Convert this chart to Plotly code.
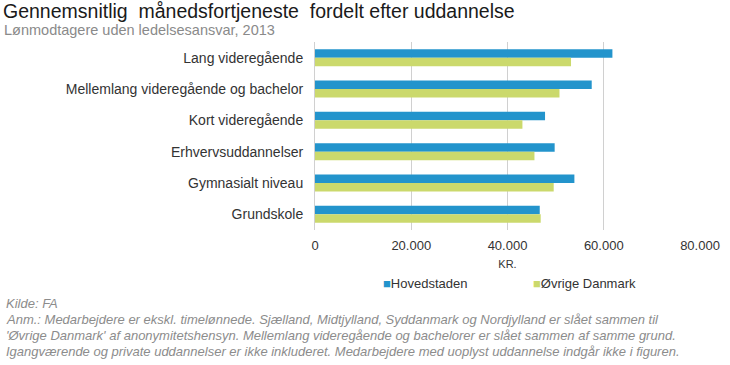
import plotly.graph_objects as go

categories = ["Lang videregående", "Mellemlang videregående og bachelor", "Kort videregående",
              "Erhvervsuddannelser", "Gymnasialt niveau", "Grundskole"]
hovedstaden = [61800, 57500, 47800, 49800, 53900, 46700]
ovrige = [53200, 50800, 43100, 45600, 49600, 46900]
series_names = ["Hovedstaden", "Øvrige Danmark"]
x_ticks = [0, 20000, 40000, 60000, 80000]
x_ticktext = ["0", "20.000", "40.000", "60.000", "80.000"]

BLUE = "#2394CC"
GREEN = "#CBD96C"
FONT = "Liberation Sans, Arial, sans-serif"

W, H = 730, 365
L, R, T, B = 315, 30, 42, 135
PW, PH = W - L - R, H - T - B


def px(x):
    return (x - L) / PW


def py(y):
    return (H - B - y) / PH


fig = go.Figure()
fig.add_bar(y=categories, x=hovedstaden, name=series_names[0], orientation="h",
            marker=dict(color=BLUE, line=dict(width=0)))
fig.add_bar(y=categories, x=ovrige, name=series_names[1], orientation="h",
            marker=dict(color=GREEN, line=dict(width=0)))

ann = []
ann.append(dict(text="Gennemsnitlig\u00a0 månedsfortjeneste\u00a0 fordelt efter uddannelse",
                x=px(2), y=py(11), borderpad=0,
                font=dict(size=19.5, color="#1a1a1a", family=FONT)))
ann.append(dict(text="Lønmodtagere uden ledelsesansvar, 2013",
                x=px(3), y=py(29.5), borderpad=0,
                font=dict(size=14.5, color="#8a8a8a", family=FONT)))
ann.append(dict(text=f"<span style='color:{BLUE}'>■</span>{series_names[0]}",
                x=px(381), y=py(283), font=dict(size=13, color="#333333", family=FONT)))
ann.append(dict(text=f"<span style='color:{GREEN}'>■</span>{series_names[1]}",
                x=px(531), y=py(283), font=dict(size=13, color="#333333", family=FONT)))
notes = [
    "Kilde: FA",
    "Anm.: Medarbejdere er ekskl. timelønnede. Sjælland, Midtjylland, Syddanmark og Nordjylland er slået sammen til",
    "'Øvrige Danmark' af anonymitetshensyn. Mellemlang videregående og bachelorer er slået sammen af samme grund.",
    "Igangværende og private uddannelser er ikke inkluderet. Medarbejdere med uoplyst uddannelse indgår ikke i figuren.",
]
for i, t in enumerate(notes):
    ann.append(dict(text=f"<i>{t}</i>", x=px(4), y=py(303 + 16 * i),
                    font=dict(size=13, color="#8c8c8c", family=FONT)))
for a in ann:
    a.update(xref="paper", yref="paper", xanchor="left", yanchor="middle", showarrow=False)

fig.update_layout(
    width=W, height=H,
    margin=dict(l=L, r=R, t=T, b=B, pad=0, autoexpand=False),
    paper_bgcolor="white", plot_bgcolor="white",
    barmode="group", bargap=0.46, bargroupgap=0,
    showlegend=False,
    font=dict(family=FONT, color="#333333"),
    annotations=ann,
)
fig.update_xaxes(range=[0, 80000], tickvals=x_ticks, ticktext=x_ticktext, automargin=False,
                 showgrid=True, gridcolor="#d0d0d0", gridwidth=1, zeroline=False,
                 showline=False, ticks="", ticklabelstandoff=6,
                 tickfont=dict(size=13, color="#333333"),
                 title=dict(text="KR.", font=dict(size=11, color="#333333"), standoff=8))
fig.update_yaxes(autorange="reversed", showgrid=False, zeroline=False, automargin=False,
                 showline=True, linecolor="#d0d0d0", linewidth=1, ticks="",
                 ticklabelstandoff=8,
                 tickfont=dict(size=14, color="#333333"))

fig.write_html("out.html", config={"displayModeBar": False},
               post_script="document.body.style.margin='0';document.body.style.padding='0';")
